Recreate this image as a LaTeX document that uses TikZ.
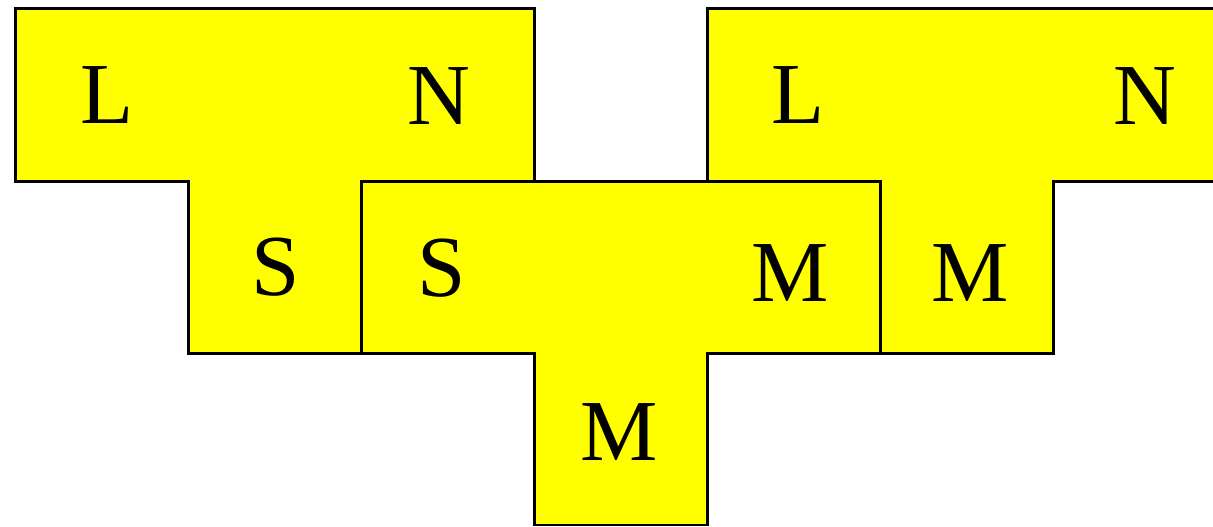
\documentclass[tikz,border=0pt]{standalone}
\usepackage{fontspec}
\setmainfont{Liberation Serif}
\definecolor{pieceyellow}{RGB}{255,255,0}
\begin{document}
\begin{tikzpicture}[x=0.02cm,y=-0.02cm,
  piece/.style={fill=pieceyellow,draw=black,line width=1.7pt,line join=miter},
  lbl/.style={anchor=base,inner sep=0pt,font=\fontsize{49.5}{50}\selectfont}]
\useasboundingbox (0,0) rectangle (1213,527);
\clip (0,0) rectangle (1213,527);
% left piece
\draw[piece] (15.5,8.5) -- (534,8.5) -- (534,181.5) -- (361.5,181.5) -- (361.5,353.5)
  -- (188.5,353.5) -- (188.5,181.5) -- (15.5,181.5) -- cycle;
% right piece
\draw[piece] (707,8.5) -- (1240,8.5) -- (1240,181.5) -- (1053,181.5) -- (1053,353.5)
  -- (880,353.5) -- (880,181.5) -- (707,181.5) -- cycle;
% middle piece
\draw[piece] (361.5,181.5) -- (880,181.5) -- (880,353.5) -- (707,353.5) -- (707,525)
  -- (534,525) -- (534,353.5) -- (361.5,353.5) -- cycle;
% labels
\node[lbl] (l1) at (107,124) {L};
\node[lbl] (n1) at (439,125) {N};
\node[lbl] (s1) at (276,295) {S};
\node[lbl] (s2) at (442,296) {S};
\node[lbl] (m2) at (790,301) {M};
\node[lbl] (m3) at (619,460) {M};
\node[lbl] (l2) at (798,123) {L};
\node[lbl] (n2) at (1145,125) {N};
\node[lbl] (m1) at (970,301) {M};
\end{tikzpicture}
\end{document}
